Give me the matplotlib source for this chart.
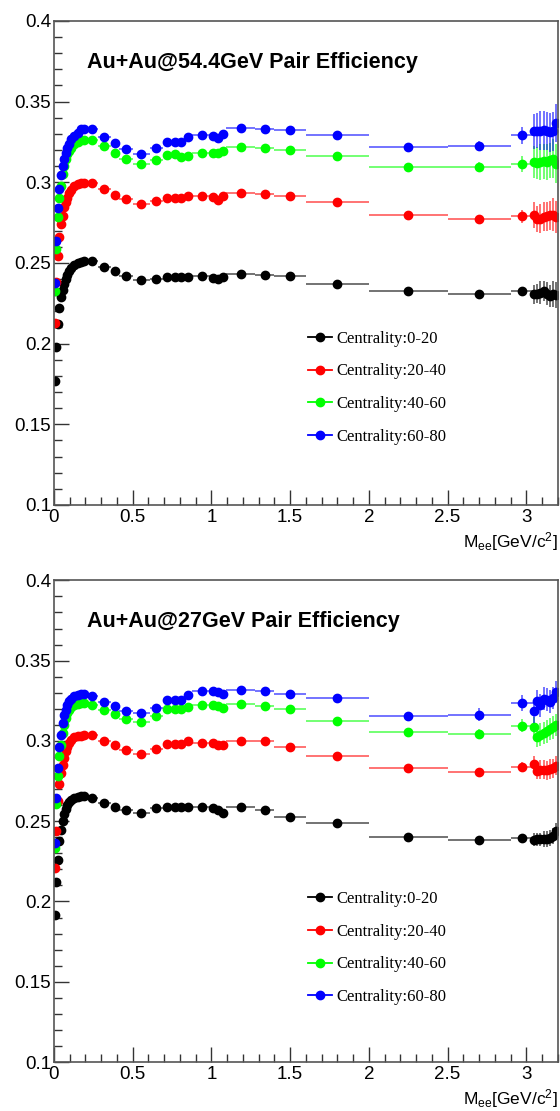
import matplotlib.pyplot as plt
import numpy as np
from matplotlib.ticker import MultipleLocator, FormatStrFormatter
from matplotlib.lines import Line2D

plt.rcParams['font.family'] = ['Liberation Sans', 'DejaVu Sans']
plt.rcParams['mathtext.fontset'] = 'custom'
plt.rcParams['mathtext.rm'] = 'Liberation Sans'
plt.rcParams['mathtext.it'] = 'Liberation Sans:italic'

# M_ee bin edges [GeV/c^2]
mass_edges = [0, 0.01, 0.02, 0.03, 0.04, 0.05, 0.06, 0.07, 0.08, 0.09, 0.10,
              0.12, 0.14, 0.16, 0.18, 0.20, 0.28, 0.36, 0.41, 0.50, 0.61,
              0.69, 0.75, 0.785, 0.825, 0.875, 1.0, 1.02, 1.06, 1.09, 1.28,
              1.40, 1.60, 2.00, 2.50, 2.90, 3.04, 3.06, 3.08, 3.10, 3.12,
              3.14, 3.16, 3.18, 3.20]

centrality = ['Centrality:0-20', 'Centrality:20-40', 'Centrality:40-60', 'Centrality:60-80']
colors = ['black', 'red', '#00ff00', 'blue']
titles = ['Au+Au@54.4GeV Pair Efficiency', 'Au+Au@27GeV Pair Efficiency']

# 54.4 GeV
eff54_0_20 = [0.177, 0.198, 0.212, 0.222, 0.229, 0.233, 0.237, 0.240, 0.2425, 0.245, 0.247, 0.2485, 0.2498, 0.2508, 0.2512,
              0.2510, 0.2472, 0.2448, 0.2418, 0.2395, 0.2403, 0.2412, 0.2412, 0.2413, 0.2415, 0.2418, 0.2408, 0.2398, 0.2415, 0.2432, 0.2425,
              0.2420, 0.2368, 0.2329, 0.2309, 0.2323,
              0.2305, 0.2310, 0.2315, 0.2325, 0.2310, 0.2295, 0.2305, 0.2300]
eff54_20_40 = [0.2125, 0.238, 0.2545, 0.266, 0.274, 0.279, 0.2845, 0.2875, 0.2905, 0.2935, 0.2955, 0.2975, 0.2988, 0.2998, 0.2998,
               0.2994, 0.2957, 0.2920, 0.2895, 0.2868, 0.2881, 0.2900, 0.2900, 0.2900, 0.2912, 0.2912, 0.2906, 0.2891, 0.2912, 0.2932, 0.2926,
               0.2914, 0.2875, 0.2796, 0.2772, 0.2788,
               0.2795, 0.2770, 0.2775, 0.2785, 0.2790, 0.2795, 0.2800, 0.2785]
eff54_40_60 = [0.2329, 0.2586, 0.2782, 0.2905, 0.2977, 0.3050, 0.3100, 0.3142, 0.3173, 0.3193, 0.3214, 0.3234, 0.3249, 0.3259, 0.3262,
               0.3259, 0.3224, 0.3183, 0.3144, 0.3115, 0.3136, 0.3169, 0.3173, 0.3156, 0.3163, 0.3179, 0.3181, 0.3183, 0.3193, 0.3218, 0.3210,
               0.3198, 0.3160, 0.3095, 0.3095, 0.3115,
               0.3125, 0.3120, 0.3125, 0.3130, 0.3125, 0.3135, 0.3145, 0.3115]
eff54_60_80 = [0.2375, 0.2638, 0.2838, 0.2960, 0.3044, 0.3100, 0.3142, 0.3183, 0.3214, 0.3240, 0.3265, 0.3286, 0.3307, 0.3327, 0.3333,
               0.3327, 0.3282, 0.3245, 0.3205, 0.3175, 0.3214, 0.3249, 0.3249, 0.3249, 0.3280, 0.3292, 0.3286, 0.3276, 0.3302, 0.3337, 0.3333,
               0.3323, 0.3290, 0.3218, 0.3224, 0.3290,
               0.3315, 0.3320, 0.3320, 0.3322, 0.3318, 0.3310, 0.3315, 0.3368]
err54_0_20 = [0.0006] * 31 + [0.001, 0.0012, 0.0015, 0.0018, 0.003, 0.006, 0.006, 0.007, 0.006, 0.007, 0.007, 0.008, 0.008]
err54_20_40 = [0.0008] * 31 + [0.0012, 0.0015, 0.002, 0.0025, 0.004, 0.008, 0.008, 0.009, 0.009, 0.009, 0.009, 0.010, 0.010]
err54_40_60 = [0.0008] * 31 + [0.0012, 0.0015, 0.002, 0.003, 0.005, 0.010, 0.010, 0.011, 0.011, 0.011, 0.011, 0.012, 0.012]
err54_60_80 = [0.0008] * 31 + [0.0012, 0.0015, 0.002, 0.003, 0.005, 0.011, 0.011, 0.012, 0.012, 0.012, 0.012, 0.012, 0.012]

# 27 GeV
eff27_0_20 = [0.1913, 0.2120, 0.2260, 0.2377, 0.2443, 0.2501, 0.2542, 0.2573, 0.2600, 0.2621, 0.2635, 0.2645, 0.2652, 0.2655, 0.2655,
              0.2645, 0.2615, 0.2588, 0.2567, 0.2548, 0.2584, 0.2588, 0.2588, 0.2588, 0.2588, 0.2588, 0.2580, 0.2570, 0.2548, 0.2588, 0.2570,
              0.2528, 0.2487, 0.2402, 0.2381, 0.2398,
              0.2385, 0.2387, 0.2388, 0.2390, 0.2392, 0.2395, 0.2410, 0.2439]
eff27_20_40 = [0.2211, 0.2439, 0.2625, 0.2729, 0.2800, 0.2853, 0.2894, 0.2936, 0.2963, 0.2988, 0.3008, 0.3023, 0.3030, 0.3033, 0.3035,
               0.3035, 0.3002, 0.2977, 0.2946, 0.2921, 0.2952, 0.2981, 0.2981, 0.2981, 0.2998, 0.2988, 0.2985, 0.2977, 0.2973, 0.3002, 0.2998,
               0.2963, 0.2905, 0.2832, 0.2807, 0.2839,
               0.2857, 0.2815, 0.2820, 0.2822, 0.2818, 0.2825, 0.2830, 0.2845]
eff27_40_60 = [0.2335, 0.2604, 0.2781, 0.2905, 0.2977, 0.3050, 0.3101, 0.3143, 0.3174, 0.3194, 0.3209, 0.3222, 0.3230, 0.3234, 0.3236,
               0.3226, 0.3191, 0.3170, 0.3137, 0.3118, 0.3153, 0.3199, 0.3199, 0.3199, 0.3209, 0.3226, 0.3226, 0.3215, 0.3205, 0.3232, 0.3215,
               0.3200, 0.3126, 0.3054, 0.3045, 0.3095,
               0.3087, 0.3025, 0.3039, 0.3050, 0.3060, 0.3075, 0.3085, 0.3098]
eff27_60_80 = [0.2365, 0.2646, 0.2832, 0.2960, 0.3039, 0.3112, 0.3163, 0.3194, 0.3226, 0.3247, 0.3263, 0.3278, 0.3288, 0.3290, 0.3292,
               0.3278, 0.3242, 0.3215, 0.3184, 0.3174, 0.3205, 0.3257, 0.3257, 0.3257, 0.3288, 0.3309, 0.3309, 0.3305, 0.3292, 0.3319, 0.3309,
               0.3294, 0.3267, 0.3153, 0.3163, 0.3236,
               0.3184, 0.3250, 0.3222, 0.3263, 0.3258, 0.3245, 0.3268, 0.3304]
err27_0_20 = [0.0006] * 31 + [0.001, 0.001, 0.0012, 0.0015, 0.002, 0.004, 0.004, 0.004, 0.005, 0.005, 0.005, 0.005, 0.005]
err27_20_40 = [0.0008] * 31 + [0.0012, 0.0015, 0.002, 0.0025, 0.003, 0.005, 0.005, 0.006, 0.006, 0.006, 0.006, 0.006, 0.006]
err27_40_60 = [0.0008] * 31 + [0.0012, 0.0015, 0.002, 0.003, 0.004, 0.006, 0.006, 0.007, 0.007, 0.007, 0.007, 0.007, 0.007]
err27_60_80 = [0.0008] * 31 + [0.0012, 0.0015, 0.003, 0.004, 0.005, 0.007, 0.007, 0.007, 0.007, 0.007, 0.007, 0.007, 0.007]

edges = np.array(mass_edges)
mass = (edges[:-1] + edges[1:]) / 2
mass_err = np.diff(edges) / 2


def draw_panel(ax, title, effs, errs, leg_top):
    handles = []
    for eff, err, c, lab in zip(effs, errs, colors, centrality):
        ax.errorbar(mass, eff, xerr=mass_err, yerr=err, fmt='none',
                    ecolor=c, elinewidth=1.4, alpha=0.55, capsize=0)
        ax.plot(mass, eff, 'o', color=c, ms=6, mec=c)
        handles.append(Line2D([], [], color=c, marker='o', ms=6, lw=1.3))
    ax.set_xlim(0, 3.2)
    ax.set_ylim(0.1, 0.4)
    ax.xaxis.set_major_locator(MultipleLocator(0.5))
    ax.xaxis.set_minor_locator(MultipleLocator(0.1))
    ax.yaxis.set_major_locator(MultipleLocator(0.05))
    ax.yaxis.set_minor_locator(MultipleLocator(0.01))
    ax.xaxis.set_major_formatter(FormatStrFormatter('%g'))
    ax.yaxis.set_major_formatter(FormatStrFormatter('%g'))
    ax.tick_params(which='both', direction='in', top=False, right=False,
                   labelsize=13.5, color='#333333')
    ax.tick_params(which='major', length=11, width=1)
    ax.tick_params(which='minor', length=6, width=1)
    ax.tick_params(axis='x', pad=3)
    ax.tick_params(axis='y', pad=2)
    for s in ax.spines.values():
        s.set_color('#555555')
        s.set_linewidth(1.2)
    ax.text(0.065, 0.915, title, transform=ax.transAxes, fontsize=15.5,
            fontweight='bold', va='center', ha='left')
    ax.text(1.0, -0.052, r'M$_{\rm ee}$[GeV/c$^{2}$]', transform=ax.transAxes,
            fontsize=12.5, ha='right', va='top')
    ax.legend(handles, centrality, loc='upper left', bbox_to_anchor=(0.505, leg_top),
              frameon=False, prop={'family': 'Liberation Serif', 'size': 12},
              handlelength=1.4, handletextpad=0.3, labelspacing=1.0,
              borderpad=0, borderaxespad=0)


fig = plt.figure(figsize=(5.6, 11.11), dpi=100)
ax1 = fig.add_axes([0.0964, 0.5455, 0.8996, 0.4357])
ax2 = fig.add_axes([0.0964, 0.0441, 0.8996, 0.4335])

draw_panel(ax1, titles[0], [eff54_0_20, eff54_20_40, eff54_40_60, eff54_60_80],
           [err54_0_20, err54_20_40, err54_40_60, err54_60_80], 0.36)
draw_panel(ax2, titles[1], [eff27_0_20, eff27_20_40, eff27_40_60, eff27_60_80],
           [err27_0_20, err27_20_40, err27_40_60, err27_60_80], 0.355)

fig.savefig('out.png', dpi=100)
